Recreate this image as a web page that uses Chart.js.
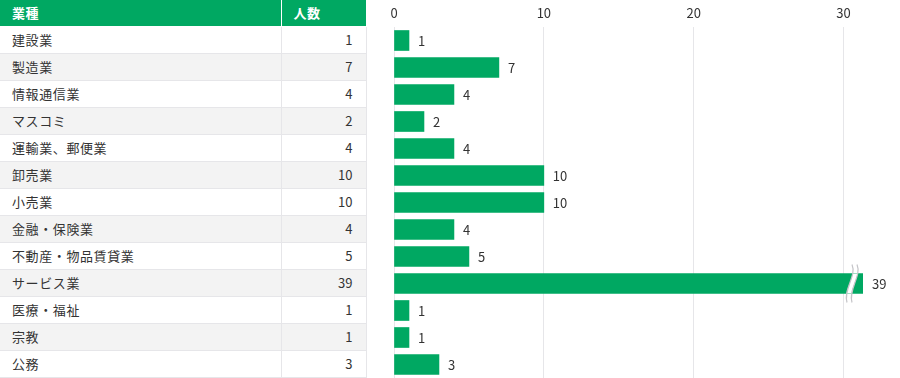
<!DOCTYPE html>
<html lang="ja">
<head>
<meta charset="utf-8">
<script src="https://cdn.jsdelivr.net/npm/chart.js@4"></script>
<style>
  html, body { margin: 0; padding: 0; background: #fff; }
  body { width: 900px; height: 378px; position: relative; overflow: hidden;
         font-family: "Noto Sans CJK JP", "Noto Sans", sans-serif; color: #333; }
  #tbl { position: absolute; left: 0; top: 0; width: 366px; border-collapse: collapse;
         table-layout: fixed; font-size: 13px; letter-spacing: 0.6px; }
  #tbl th, #tbl td { height: 26px; padding: 0 12px; border-bottom: 1px solid #e6e6e9; line-height: 26px; }
  #tbl th { background: #00a862; color: #fff; font-weight: 700; text-align: left; border-bottom: 1px solid #fff; }
  #tbl th + th { border-left: 1px solid #fff; }
  #tbl td + td { border-left: 1px solid #e6e6e9; text-align: right; padding-right: 13px; letter-spacing: 0; }
  #tbl td:last-child { border-right: 1px solid #e6e6e9; }
  #tbl tbody tr:nth-child(even) td { background: #f3f3f3; }
  #wrap { position: absolute; left: 366px; top: 0; width: 534px; height: 378px; }
</style>
</head>
<body>
<table id="tbl">
  <colgroup><col style="width:281px"><col style="width:85px"></colgroup>
  <thead><tr><th>業種</th><th>人数</th></tr></thead>
  <tbody id="rows"></tbody>
</table>
<div id="wrap"><canvas id="chart"></canvas></div>
<script>
const categories = ['建設業', '製造業', '情報通信業', 'マスコミ', '運輸業、郵便業', '卸売業', '小売業',
  '金融・保険業', '不動産・物品賃貸業', 'サービス業', '医療・福祉', '宗教', '公務'];
const counts = [1, 7, 4, 2, 4, 10, 10, 4, 5, 39, 1, 1, 3];
const tickValues = [0, 10, 20, 30];
const axisMax = 31.3;   // axis is cut here, longer bars get a break mark

const GREEN = '#00a862';

// table on the left
document.getElementById('rows').innerHTML = categories.map((c, i) =>
  `<tr><td>${c}</td><td>${counts[i]}</td></tr>`).join('');

// value labels + break mark for bars past the axis end
const barExtras = {
  id: 'barExtras',
  afterDatasetsDraw(chart) {
    const ctx = chart.ctx;
    const area = chart.chartArea;
    const meta = chart.getDatasetMeta(0);
    ctx.save();
    ctx.font = '13px "Noto Sans CJK JP", "Noto Sans", sans-serif';
    ctx.textBaseline = 'middle';
    ctx.textAlign = 'left';
    meta.data.forEach((bar, i) => {
      const v = counts[i];
      const end = Math.min(bar.x, area.right);
      ctx.fillStyle = '#333';
      ctx.fillText(String(v), end + 9, bar.y + 1);
      if (v > axisMax) {
        const bx = area.right - 17;
        const top = bar.y - bar.height / 2 - 9;
        const bot = bar.y + bar.height / 2 + 9;
        const h = bot - top;
        const sPath = (off) => {
          ctx.moveTo(bx + off + 6, top);
          ctx.bezierCurveTo(bx + off + 11, top + h * 0.3, bx + off - 3, bot - h * 0.35, bx + off + 1, bot);
        };
        // white gap inside the bar
        ctx.save();
        ctx.beginPath();
        ctx.rect(bx - 6, bar.y - bar.height / 2, 24, bar.height);
        ctx.clip();
        ctx.fillStyle = '#fff';
        ctx.beginPath();
        sPath(0);
        ctx.lineTo(bx + 6, bot);
        ctx.bezierCurveTo(bx + 2, bot - h * 0.35, bx + 16, top + h * 0.3, bx + 11, top);
        ctx.closePath();
        ctx.fill();
        ctx.restore();
        ctx.strokeStyle = '#c4c4c8';
        ctx.lineWidth = 1.2;
        ctx.beginPath(); sPath(0); ctx.stroke();
        ctx.beginPath(); sPath(5); ctx.stroke();
      }
    });
    ctx.restore();
  }
};

new Chart(document.getElementById('chart'), {
  type: 'bar',
  data: {
    labels: categories,
    datasets: [{
      data: counts,
      backgroundColor: GREEN,
      barThickness: 20,
      borderWidth: 0
    }]
  },
  options: {
    indexAxis: 'y',
    responsive: true,
    maintainAspectRatio: false,
    animation: false,
    layout: { padding: { left: 28, right: 37, top: 0, bottom: 0 } },
    plugins: { legend: { display: false }, tooltip: { enabled: false } },
    scales: {
      y: { display: false },
      x: {
        position: 'top',
        min: 0,
        max: axisMax,
        afterFit(scale) { scale.height = 27; },
        afterBuildTicks(scale) { scale.ticks = tickValues.map(v => ({ value: v })); },
        ticks: {
          padding: 6,
          color: '#333',
          font: { family: '"Noto Sans CJK JP", "Noto Sans", sans-serif', size: 13 }
        },
        grid: { color: '#e6e6e9', drawTicks: false },
        border: { display: false }
      }
    }
  },
  plugins: [barExtras]
});
</script>
</body>
</html>
